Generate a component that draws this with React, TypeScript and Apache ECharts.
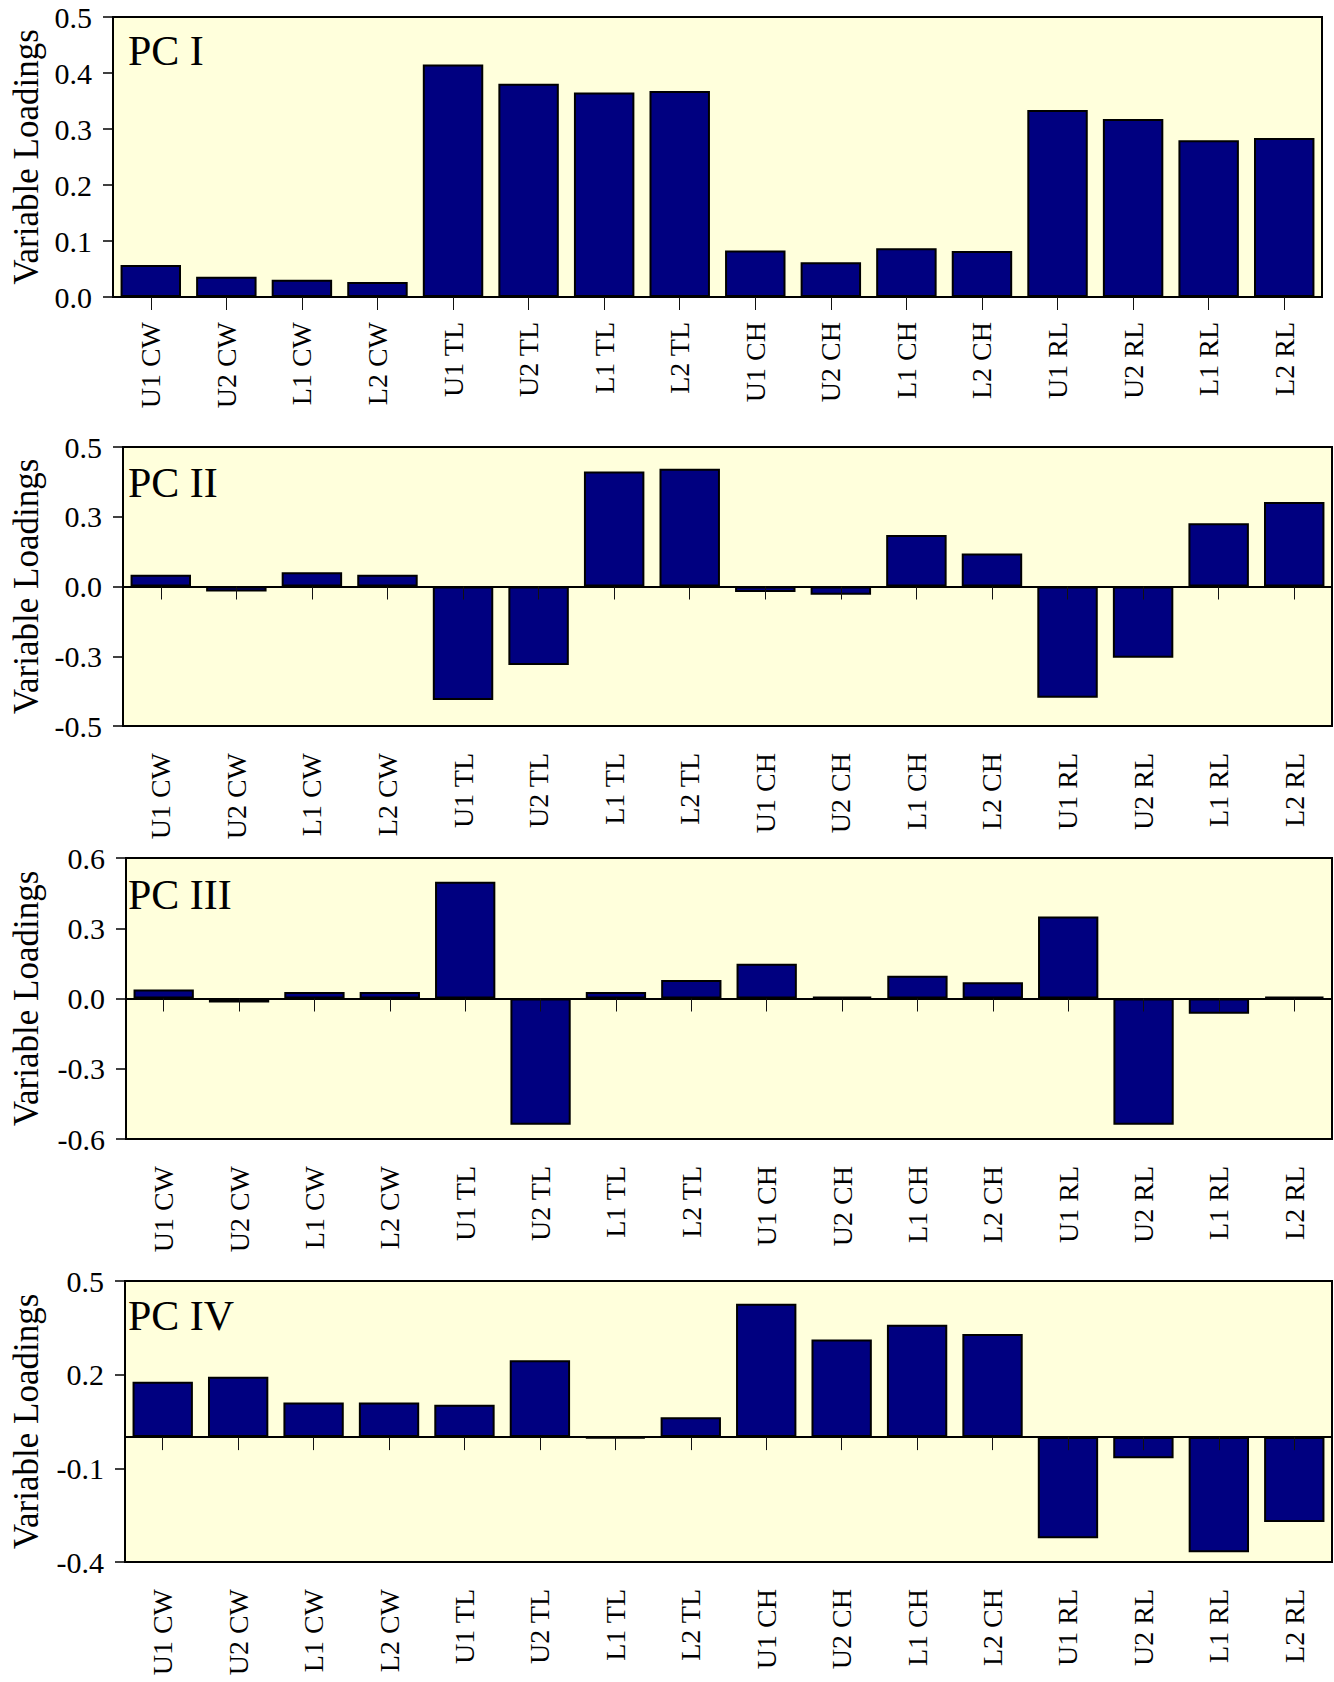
import React, { useEffect, useRef } from "react";
import * as echarts from "echarts";

const categories = [
  "U1 CW", "U2 CW", "L1 CW", "L2 CW",
  "U1 TL", "U2 TL", "L1 TL", "L2 TL",
  "U1 CH", "U2 CH", "L1 CH", "L2 CH",
  "U1 RL", "U2 RL", "L1 RL", "L2 RL",
];

const pc1Values = [0.057, 0.036, 0.031, 0.027, 0.415, 0.381, 0.365, 0.368, 0.083, 0.062, 0.087, 0.082, 0.334, 0.318, 0.28, 0.284];
const pc2Values = [0.042, -0.018, 0.051, 0.042, -0.407, -0.281, 0.412, 0.422, -0.02, -0.03, 0.185, 0.118, -0.399, -0.255, 0.227, 0.303];
const pc3Values = [0.038, -0.017, 0.028, 0.028, 0.499, -0.539, 0.028, 0.079, 0.148, 0.008, 0.097, 0.069, 0.35, -0.539, -0.065, 0.008];
const pc4Values = [0.177, 0.193, 0.111, 0.111, 0.104, 0.246, -0.004, 0.064, 0.427, 0.313, 0.36, 0.33, -0.324, -0.068, -0.369, -0.272];

const panelTitles = ["PC I", "PC II", "PC III", "PC IV"];

const pc1Ticks = ["0.0", "0.1", "0.2", "0.3", "0.4", "0.5"];
const pc2Ticks = ["-0.5", "-0.3", "0.0", "0.3", "0.5"];
const pc3Ticks = ["-0.6", "-0.3", "0.0", "0.3", "0.6"];
const pc4Ticks = ["-0.4", "-0.1", "0.2", "0.5"];

const yRanges = [
  { min: 0, max: 0.5, interval: 0.1 },
  { min: -0.5, max: 0.5, interval: 0.25 },
  { min: -0.6, max: 0.6, interval: 0.3 },
  { min: -0.4, max: 0.5, interval: 0.3 },
];

const FONT = '"Liberation Serif", "Times New Roman", serif';

export default function App() {
  const ref = useRef<HTMLDivElement>(null);

  useEffect(() => {
    if (!ref.current) return;
    const chart = echarts.init(ref.current, undefined, { renderer: "svg" });

    const values = [pc1Values, pc2Values, pc3Values, pc4Values];
    const ticks = [pc1Ticks, pc2Ticks, pc3Ticks, pc4Ticks];
    const layout = [
      { left: 113, top: 17, width: 1209, height: 280, nameGap: 69, labelMargin: 25, titleY: 51 },
      { left: 123, top: 447, width: 1209, height: 279, nameGap: 78, labelMargin: 27, titleY: 483 },
      { left: 126, top: 858, width: 1206, height: 281, nameGap: 82, labelMargin: 27, titleY: 895 },
      { left: 125, top: 1281, width: 1207, height: 281, nameGap: 81, labelMargin: 27, titleY: 1316 },
    ];

    const grid: any[] = [];
    const xAxis: any[] = [];
    const yAxis: any[] = [];
    const series: any[] = [];
    const graphic: any[] = [];

    layout.forEach((g, k) => {
      grid.push({
        left: g.left,
        top: g.top,
        width: g.width,
        height: g.height,
        show: true,
        backgroundColor: "#FFFFDC",
        borderColor: "#000",
        borderWidth: 2,
        containLabel: false,
      });
      xAxis.push({
        type: "category",
        gridIndex: k,
        data: categories,
        position: "bottom",
        axisLine: { show: false, onZero: false },
        axisTick: { show: false },
        axisLabel: {
          rotate: 90,
          margin: g.labelMargin,
          fontSize: 28,
          fontFamily: FONT,
          color: "#000",
          interval: 0,
        },
      });
      xAxis.push({
        type: "category",
        gridIndex: k,
        data: categories,
        position: "bottom",
        z: 10,
        axisLine: { show: true, onZero: true, lineStyle: { color: "#000", width: 2 } },
        axisTick: { show: true, alignWithLabel: true, length: 13, interval: 0, lineStyle: { color: "#111", width: 1 } },
        axisLabel: { show: false },
      });
      const tl = ticks[k];
      yAxis.push({
        type: "value",
        gridIndex: k,
        min: yRanges[k].min,
        max: yRanges[k].max,
        interval: yRanges[k].interval,
        name: "Variable Loadings",
        nameLocation: "middle",
        nameRotate: 90,
        nameGap: g.nameGap,
        nameTextStyle: { fontSize: 35, fontFamily: FONT, color: "#000" },
        axisLine: { show: false },
        axisTick: { show: true, length: 10, lineStyle: { color: "#000", width: 1.5 } },
        splitLine: { show: false },
        axisLabel: {
          margin: 21,
          fontSize: 30,
          fontFamily: FONT,
          color: "#000",
          formatter: (_v: number, i: number) => tl[i] ?? "",
        },
      });
      series.push({
        type: "bar",
        xAxisIndex: 2 * k,
        yAxisIndex: k,
        data: values[k],
        barCategoryGap: "20%",
        itemStyle: { color: "#000080", borderColor: "#000", borderWidth: 2 },
      });
      graphic.push({
        type: "text",
        x: 128,
        y: g.titleY,
        z: 20,
        style: {
          text: panelTitles[k],
          font: `42px ${FONT}`,
          fill: "#000",
          textAlign: "left",
          textVerticalAlign: "middle",
          verticalAlign: "middle",
        },
      });
    });

    chart.setOption({
      animation: false,
      backgroundColor: "#fff",
      grid,
      xAxis,
      yAxis,
      series,
      graphic,
    });

    return () => chart.dispose();
  }, []);

  return (
    <div
      ref={ref}
      style={{ position: "absolute", left: 0, top: 0, width: 1334, height: 1682 }}
    />
  );
}
